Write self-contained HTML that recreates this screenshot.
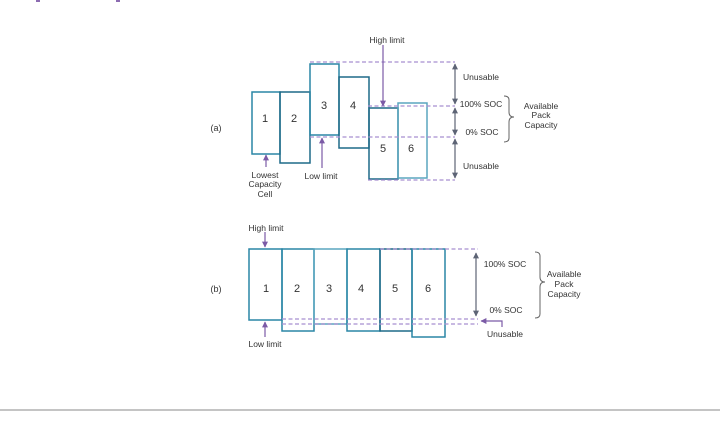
<!DOCTYPE html>
<html><head><meta charset="utf-8"><style>
html,body{margin:0;padding:0;background:#fff;width:720px;height:440px;overflow:hidden}
svg{display:block}
text{font-family:"Liberation Sans",sans-serif;fill:#333}
</style></head><body>
<svg width="720" height="440" viewBox="0 0 720 440" xmlns="http://www.w3.org/2000/svg">
<defs>
<marker id="pa" viewBox="0 0 10 10" refX="9" refY="5" markerWidth="5" markerHeight="5" orient="auto-start-reverse"><path d="M0,0L10,5L0,10z" fill="#7b5aa6"/></marker>
<marker id="ga" viewBox="0 0 10 10" refX="9" refY="5" markerWidth="5" markerHeight="5" orient="auto-start-reverse"><path d="M0,0L10,5L0,10z" fill="#5d6475"/></marker>
</defs>
<rect x="36" y="0" width="4" height="2" fill="#8c6bb1"/>
<rect x="116" y="0" width="4" height="2" fill="#8c6bb1"/>
<!-- (a) -->
<text x="216" y="131" font-size="9" text-anchor="middle">(a)</text>
<g fill="none" stroke-width="1.5">
<rect x="252" y="92" width="28" height="62" stroke="#2a86a6"/>
<rect x="280" y="92" width="30" height="71" stroke="#1e6a88"/>
<rect x="310" y="64" width="29" height="71" stroke="#2a86a6"/>
<rect x="339" y="77" width="30" height="71" stroke="#1e6a88"/>
<rect x="369" y="108" width="29" height="71" stroke="#1e6a88"/>
<rect x="398" y="103" width="29" height="75" stroke="#5aa6bf"/>
</g>
<g font-size="11" text-anchor="middle">
<text x="265" y="122">1</text><text x="294" y="122">2</text><text x="324" y="109">3</text>
<text x="353" y="109">4</text><text x="383" y="152">5</text><text x="411" y="152">6</text>
</g>
<g stroke="#a88fd0" stroke-width="1.2" stroke-dasharray="4,2.5" fill="none">
<line x1="310" y1="62" x2="455" y2="62"/>
<line x1="368" y1="106" x2="455" y2="106"/>
<line x1="310" y1="137" x2="455" y2="137"/>
<line x1="368" y1="180" x2="455" y2="180"/>
</g>
<g stroke="#5d6475" stroke-width="1.2">
<line x1="455" y1="64" x2="455" y2="104" marker-start="url(#ga)" marker-end="url(#ga)"/>
<line x1="455" y1="108" x2="455" y2="135" marker-start="url(#ga)" marker-end="url(#ga)"/>
<line x1="455" y1="139" x2="455" y2="178" marker-start="url(#ga)" marker-end="url(#ga)"/>
</g>
<g stroke="#7b5aa6" stroke-width="1.2">
<line x1="383" y1="45" x2="383" y2="106" marker-end="url(#pa)"/>
<line x1="322" y1="168" x2="322" y2="138" marker-end="url(#pa)"/>
<line x1="266" y1="167" x2="266" y2="155" marker-end="url(#pa)"/>
</g>
<g font-size="8.5" text-anchor="middle">
<text x="387" y="43">High limit</text>
<text x="321" y="179">Low limit</text>
<text x="265" y="178">Lowest</text><text x="265" y="187">Capacity</text><text x="265" y="197">Cell</text>
<text x="481" y="80">Unusable</text>
<text x="481" y="107">100% SOC</text>
<text x="482" y="135">0% SOC</text>
<text x="481" y="169">Unusable</text>
<text x="541" y="109">Available</text><text x="541" y="118">Pack</text><text x="541" y="128">Capacity</text>
</g>
<path d="M504,96 q5,0 5,4 v12 q0,5 5,5 q-5,0 -5,5 v16 q0,4 -5,4" fill="none" stroke="#666" stroke-width="1"/>
<!-- (b) -->
<text x="216" y="292" font-size="9" text-anchor="middle">(b)</text>
<g fill="none" stroke-width="1.5">
<rect x="249" y="249" width="33" height="71" stroke="#2a86a6"/>
<rect x="282" y="249" width="32" height="82" stroke="#2a86a6"/>
<rect x="314" y="249" width="33" height="75" stroke="#5aa6bf"/>
<rect x="347" y="249" width="33" height="82" stroke="#2a86a6"/>
<rect x="380" y="249" width="32" height="82" stroke="#1e6a88"/>
<rect x="412" y="249" width="33" height="88" stroke="#2a86a6"/>
</g>
<g font-size="11" text-anchor="middle">
<text x="266" y="292">1</text><text x="297" y="292">2</text><text x="329" y="292">3</text>
<text x="361" y="292">4</text><text x="395" y="292">5</text><text x="428" y="292">6</text>
</g>
<g stroke="#a88fd0" stroke-width="1.2" stroke-dasharray="4,2.5" fill="none">
<line x1="380" y1="249" x2="478" y2="249"/>
<line x1="282" y1="319" x2="478" y2="319"/>
<line x1="282" y1="324" x2="478" y2="324"/>
</g>
<line x1="476" y1="253" x2="476" y2="316" stroke="#5d6475" stroke-width="1.2" marker-start="url(#ga)" marker-end="url(#ga)"/>
<g stroke="#7b5aa6" stroke-width="1.2" fill="none">
<line x1="265" y1="232" x2="265" y2="247" marker-end="url(#pa)"/>
<line x1="265" y1="337" x2="265" y2="322" marker-end="url(#pa)"/>
<path d="M502,327 V321 H481" marker-end="url(#pa)"/>
</g>
<g font-size="8.5" text-anchor="middle">
<text x="266" y="231">High limit</text>
<text x="265" y="347">Low limit</text>
<text x="505" y="267">100% SOC</text>
<text x="506" y="313">0% SOC</text>
<text x="505" y="337">Unusable</text>
<text x="564" y="277">Available</text><text x="564" y="287">Pack</text><text x="564" y="297">Capacity</text>
</g>
<path d="M535,252 q5,0 5,4 v21 q0,5 5,5 q-5,0 -5,5 v27 q0,4 -5,4" fill="none" stroke="#666" stroke-width="1"/>
<rect x="0" y="409" width="720" height="2" fill="#c4c4c4"/>
</svg>
</body></html>
